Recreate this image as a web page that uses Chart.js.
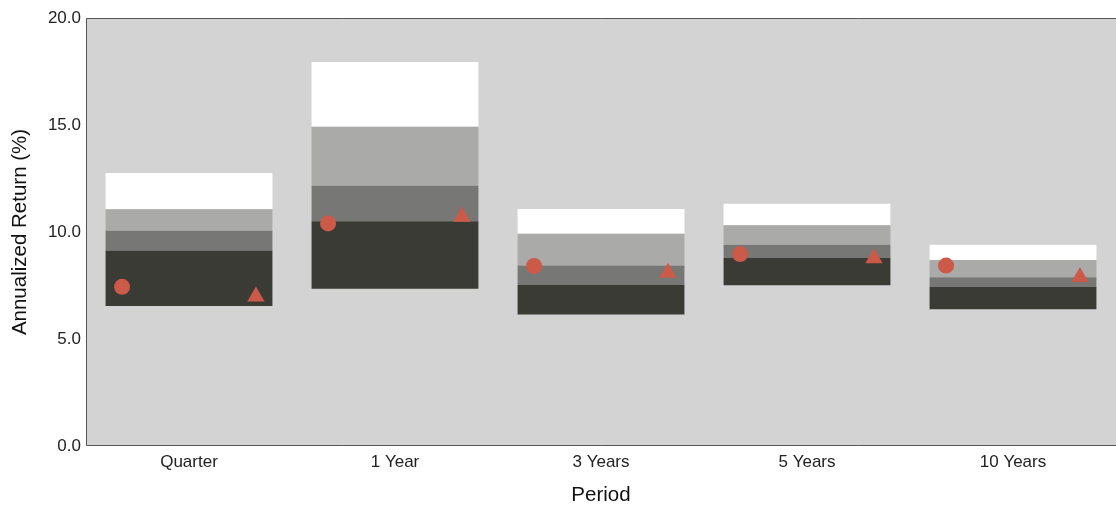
<!DOCTYPE html>
<html>
<head>
<meta charset="utf-8">
<script src="https://cdn.jsdelivr.net/npm/chart.js@4/dist/chart.umd.min.js"></script>
<style>
  html, body { margin: 0; padding: 0; background: #ffffff; overflow: hidden; }
  #wrap { width: 1116px; height: 508px; }
</style>
</head>
<body>
<div id="wrap"><canvas id="c" width="1116" height="508"></canvas></div>
<script>
// Periods on the horizontal axis
const periods = ['Quarter', '1 Year', '3 Years', '5 Years', '10 Years'];

// Universe percentile breakpoints (annualized return, %)
const pct95 = [6.54, 7.35, 6.15, 7.51, 6.39];
const pct75 = [9.14, 10.50, 7.52, 8.79, 7.43];
const pct50 = [10.06, 12.16, 8.44, 9.41, 7.88];
const pct25 = [11.06, 14.92, 9.92, 10.31, 8.69];
const pct5  = [12.76, 17.94, 11.07, 11.32, 9.41];

// Portfolio (circle) and benchmark (triangle) returns
const portfolio = [7.44, 10.40, 8.41, 8.97, 8.43];
const benchmark = [6.99, 10.71, 8.10, 8.77, 7.90];

// Y axis tick values
const yTicks = [0, 5, 10, 15, 20];

const bandColors = ['#3b3b35', '#777775', '#aaaaa8', '#ffffff'];
const markerColor = '#cc5a49';
const markerShift = 0.325;

function band(lo, hi, color) {
  return {
    type: 'bar',
    data: lo.map((v, i) => [v, hi[i]]),
    backgroundColor: color,
    borderWidth: 0,
    grouped: false,
    order: 10,
    categoryPercentage: 1.0,
    barPercentage: 0.81,
    xAxisID: 'x',
    yAxisID: 'y'
  };
}

function markers(values, shift, style, radius) {
  return {
    type: 'scatter',
    data: values.map((v, i) => ({ x: i + shift, y: v })),
    pointStyle: style,
    pointRadius: radius,
    pointHoverRadius: radius,
    backgroundColor: markerColor,
    borderColor: markerColor,
    borderWidth: 0,
    order: 0,
    xAxisID: 'xp',
    yAxisID: 'y'
  };
}

// Grey plot panel with a frame on the top, left and bottom sides
const plotFrame = {
  id: 'plotFrame',
  beforeDatasetsDraw(chart) {
    const a = chart.chartArea, ctx = chart.ctx;
    ctx.save();
    ctx.fillStyle = '#d3d3d3';
    ctx.fillRect(a.left, a.top, a.right - a.left, a.bottom - a.top);
    ctx.restore();
  },
  afterDatasetsDraw(chart) {
    const a = chart.chartArea, ctx = chart.ctx;
    ctx.save();
    ctx.strokeStyle = '#555555';
    ctx.lineWidth = 1;
    ctx.beginPath();
    ctx.moveTo(a.right, a.top + 0.5);
    ctx.lineTo(a.left + 0.5, a.top + 0.5);
    ctx.lineTo(a.left + 0.5, a.bottom - 0.5);
    ctx.lineTo(a.right, a.bottom - 0.5);
    ctx.stroke();
    ctx.restore();
  }
};

const font = "'Liberation Sans', Arial, sans-serif";

new Chart(document.getElementById('c'), {
  data: {
    labels: periods,
    datasets: [
      band(pct95, pct75, bandColors[0]),
      band(pct75, pct50, bandColors[1]),
      band(pct50, pct25, bandColors[2]),
      band(pct25, pct5, bandColors[3]),
      markers(portfolio, -markerShift, 'circle', 8),
      markers(benchmark, markerShift, 'triangle', 10)
    ]
  },
  options: {
    responsive: false,
    animation: false,
    layout: { autoPadding: false, padding: { top: 18, right: 0, left: 0, bottom: 0 } },
    plugins: { legend: { display: false }, tooltip: { enabled: false } },
    scales: {
      x: {
        type: 'category',
        offset: true,
        grid: { display: false, drawTicks: false },
        border: { display: false },
        ticks: { color: '#222222', font: { family: font, size: 17 }, padding: 6 },
        title: { display: true, text: 'Period', color: '#111111', font: { family: font, size: 20.5 }, padding: { top: 10, bottom: 0 } },
        afterFit(s) { s.height = 62; }
      },
      xp: {
        type: 'linear',
        display: false,
        min: -0.5,
        max: periods.length - 0.5
      },
      y: {
        type: 'linear',
        min: yTicks[0],
        max: yTicks[yTicks.length - 1],
        grid: { display: false, drawTicks: false },
        border: { display: false },
        afterBuildTicks(s) { s.ticks = yTicks.map(v => ({ value: v })); },
        ticks: {
          color: '#222222',
          font: { family: font, size: 17 },
          padding: 5,
          callback: v => Number(v).toFixed(1)
        },
        title: { display: true, text: 'Annualized Return (%)', color: '#111111', font: { family: font, size: 20.5 }, padding: { top: 8, bottom: 4 } },
        afterFit(s) { s.width = 86; }
      }
    }
  },
  plugins: [plotFrame]
});
</script>
</body>
</html>
